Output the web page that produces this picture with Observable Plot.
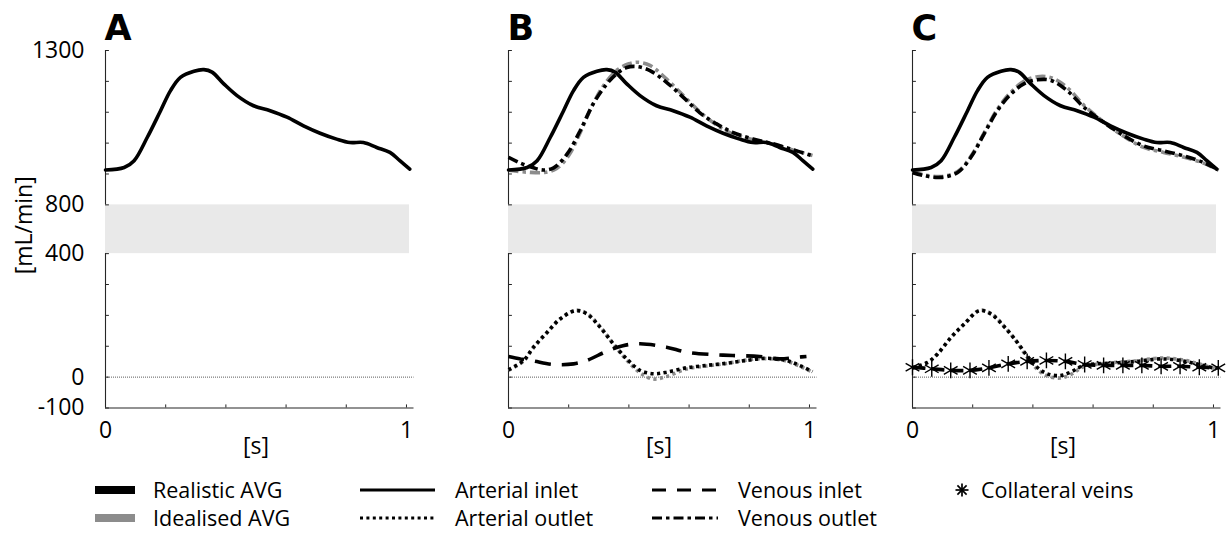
<!DOCTYPE html>
<html><head><meta charset="utf-8">
<script src="https://cdn.jsdelivr.net/npm/d3@7"></script>
<script src="https://cdn.jsdelivr.net/npm/@observablehq/plot@0.6"></script>
<style>
body{margin:0;background:#fff;font-family:"Open Sans",sans-serif;}
#wrap{position:relative;width:1232px;height:533px;overflow:hidden;background:#fff;}
#wrap svg{position:absolute;top:0;}
</style></head><body><div id="wrap"></div>
<script>
// ---------- data (t in s, flow in mL/min) ----------
const arterialInlet = [[0,913],[0.062,921],[0.095,943],[0.139,1019],[0.183,1105],[0.216,1170],[0.249,1213],[0.294,1233],[0.327,1238],[0.354,1230],[0.393,1192],[0.437,1154],[0.492,1121],[0.547,1105],[0.603,1084],[0.658,1056],[0.713,1032],[0.768,1013],[0.812,1002],[0.857,1002],[0.901,986],[0.945,970],[0.978,943],[1.011,916]];

const venousOutletB = [[0,954],[0.04,935],[0.083,920],[0.116,913],[0.15,920],[0.195,965],[0.238,1040],[0.282,1128],[0.327,1192],[0.36,1225],[0.393,1245],[0.427,1248],[0.47,1235],[0.525,1197],[0.58,1149],[0.635,1099],[0.69,1063],[0.745,1035],[0.812,1013],[0.878,998],[0.944,979],[1.01,959]];
const venousOutletBIdeal = [[0,912],[0.06,906],[0.12,905],[0.16,918],[0.2,960],[0.24,1038],[0.28,1125],[0.32,1192],[0.36,1236],[0.4,1257],[0.43,1262],[0.47,1252],[0.52,1212],[0.58,1155],[0.635,1102],[0.69,1060],[0.745,1030],[0.81,1012],[0.88,996],[0.945,978],[1.01,960]];

const arterialOutletB = [[0,24],[0.05,54],[0.083,97],[0.128,145],[0.172,189],[0.222,215],[0.26,205],[0.305,161],[0.348,108],[0.393,59],[0.437,22],[0.481,11],[0.525,16],[0.59,30],[0.658,38],[0.724,45],[0.79,54],[0.857,61],[0.923,54],[0.967,38],[1.01,18]];
const arterialOutletBIdeal = [[0,22],[0.05,52],[0.083,95],[0.128,144],[0.172,188],[0.222,216],[0.26,207],[0.305,163],[0.348,108],[0.393,55],[0.437,14],[0.481,-6],[0.525,2],[0.59,26],[0.658,36],[0.724,44],[0.79,55],[0.857,60],[0.923,52],[0.967,36],[1.01,16]];

const venousInletB = [[0,67],[0.04,59],[0.083,52],[0.15,41],[0.216,43],[0.26,54],[0.327,84],[0.38,102],[0.437,108],[0.525,97],[0.59,81],[0.68,73],[0.745,70],[0.834,67],[0.9,59],[0.967,65],[0.99,67]];

const venousOutletC = [[0,905],[0.04,894],[0.095,889],[0.15,905],[0.194,954],[0.238,1030],[0.282,1105],[0.327,1159],[0.37,1192],[0.415,1205],[0.46,1203],[0.514,1170],[0.57,1116],[0.636,1067],[0.702,1024],[0.768,991],[0.834,975],[0.9,959],[0.967,937],[1.017,913]];
const venousOutletCIdeal = [[0,908],[0.04,897],[0.095,892],[0.15,908],[0.194,957],[0.238,1033],[0.282,1110],[0.327,1165],[0.37,1200],[0.415,1215],[0.46,1212],[0.514,1180],[0.57,1122],[0.636,1068],[0.702,1022],[0.768,986],[0.834,970],[0.9,955],[0.967,935],[1.017,912]];

const arterialOutletC = [[0,30],[0.05,48],[0.083,75],[0.128,129],[0.172,172],[0.222,215],[0.26,205],[0.305,163],[0.348,113],[0.38,70],[0.414,32],[0.447,11],[0.49,5],[0.525,16],[0.57,38],[0.658,45],[0.745,51],[0.823,59],[0.89,54],[0.944,43],[1.01,27]];
const arterialOutletCIdeal = [[0,28],[0.05,47],[0.083,74],[0.128,128],[0.172,172],[0.222,216],[0.26,207],[0.305,164],[0.348,112],[0.38,66],[0.414,26],[0.447,4],[0.49,-3],[0.525,8],[0.57,34],[0.658,46],[0.745,53],[0.823,62],[0.89,57],[0.944,45],[1.01,26]];

const venousInletC = [[0,32],[0.064,27],[0.127,22],[0.191,22],[0.254,30],[0.318,43],[0.381,51],[0.445,54],[0.508,51],[0.572,41],[0.635,38],[0.699,38],[0.762,38],[0.826,35],[0.889,35],[0.953,32],[1.016,30]];
const collateralC = [[0,32],[0.064,27],[0.127,22],[0.191,22],[0.254,30],[0.318,43],[0.381,51],[0.445,54],[0.508,51],[0.572,41],[0.635,38],[0.699,38],[0.762,38],[0.826,35],[0.889,35],[0.953,32],[1.016,30]];

const gapBand = [{t0: 0, t1: 1.01, lo: 400, hi: 800}];
const axisSegments = [{lo: -100, hi: 400}, {lo: 800, hi: 1300}];
const yTickValues = [-100, 0, 100, 200, 300, 400, 800, 900, 1000, 1100, 1200, 1300];
const yTickLabels = [-100, 0, 400, 800, 1300];
const xTickValues = [0, 0.2, 0.4, 0.6, 0.8, 1];
const xTickLabels = [0, 1];
const panelLetters = ["A", "B", "C"];

// ---------- broken y axis: 400..800 compressed ----------
const GAP_UNITS = 158;
function broken(v) {
  return v <= 400 ? v : v >= 800 ? v - 800 + 400 + GAP_UNITS : 400 + (v - 400) * GAP_UNITS / 400;
}

// ---------- styles ----------
const BLACK = "#000", GRAY = "#8c8c8c", AXIS = "#262626";
const LW = 3.6;
const DOT = "3.2,3.4", DASH = "16,11", DASHDOT = "10,4,3.5,4";
const FONT = "Open Sans";

function line(data, stroke, dash) {
  const o = {x: d => d[0], y: d => d[1], stroke, strokeWidth: LW, curve: "catmull-rom"};
  if (dash) { o.strokeDasharray = dash; o.strokeLinecap = "butt"; o.strokeLinejoin = "miter"; }
  return Plot.line(data, o);
}

function panel(letter, left, seriesMarks, showY) {
  const W = 430, H = 470;
  const marks = [
    Plot.rect(gapBand, {x1: "t0", x2: "t1", y1: "lo", y2: "hi", fill: "#e9e9e9"}),
    Plot.ruleY([0], {x1: 0, x2: 1.025, stroke: "#333", strokeWidth: 0.8, strokeDasharray: "1,1"}),
    Plot.ruleX(axisSegments, {x: 0, y1: "lo", y2: "hi", stroke: AXIS, strokeWidth: 1.1}),
    Plot.ruleY([-100], {x1: 0, x2: 1.025, stroke: AXIS, strokeWidth: 1.1}),
    Plot.ruleY(yTickValues, {x1: 0, x2: 0.013, stroke: AXIS, strokeWidth: 1}),
    Plot.ruleX(xTickValues, {y1: -100, y2: -90, stroke: AXIS, strokeWidth: 1}),
    ...seriesMarks,
    Plot.axisX(xTickLabels, {tickSize: 0, tickPadding: 14, fontSize: 23, label: null, tickFormat: d => String(d)}),
    Plot.text([0.5], {x: d => d, frameAnchor: "bottom", dy: 46, text: () => "[s]", fontSize: 23}),
    Plot.text([letter], {x: () => 0, frameAnchor: "top", textAnchor: "start", lineAnchor: "bottom", dy: -11, dx: -1,
      text: d => d, fontSize: 35, fontWeight: "bold", fontFamily: "DejaVu Sans"})
  ];
  if (showY) {
    marks.push(Plot.axisY(yTickLabels, {tickSize: 0, tickPadding: 21, fontSize: 23, label: null, tickFormat: d => String(d)}));
    marks.push(Plot.text(["[mL/min]"], {frameAnchor: "left", textAnchor: "middle", rotate: -90, dx: -81, dy: -4,
      text: d => d, fontSize: 23}));
  }
  const svg = Plot.plot({
    width: W, height: H,
    marginLeft: 105, marginTop: 50, marginBottom: H - 407.5, marginRight: W - 413.5,
    style: {fontFamily: FONT, fontSize: "23px", background: "transparent", color: "#000", overflow: "visible"},
    x: {type: "linear", domain: [0, 1.025], axis: null, label: null},
    y: {type: "linear", transform: broken, domain: [-100, broken(1300)], axis: showY ? undefined : null, label: null},
    marks
  });
  svg.style.left = left + "px";
  return svg;
}

const wrap = document.getElementById("wrap");

wrap.appendChild(panel(panelLetters[0], 0, [
  line(arterialInlet, BLACK)
], true));

wrap.appendChild(panel(panelLetters[1], 403, [
  line(venousOutletBIdeal, GRAY, DASHDOT),
  line(arterialOutletBIdeal, GRAY, DOT),
  line(arterialInlet, BLACK),
  line(venousOutletB, BLACK, DASHDOT),
  line(venousInletB, BLACK, DASH),
  line(arterialOutletB, BLACK, DOT)
], false));

wrap.appendChild(panel(panelLetters[2], 807, [
  line(venousOutletCIdeal, GRAY, DASHDOT),
  line(arterialOutletCIdeal, GRAY, DOT),
  line(arterialInlet, BLACK),
  line(venousOutletC, BLACK, DASHDOT),
  line(venousInletC, BLACK, "13,6"),
  line(arterialOutletC, BLACK, DOT),
  Plot.dot(collateralC, {x: d => d[0], y: d => d[1], symbol: "asterisk", r: 7.5, stroke: BLACK, strokeWidth: 1.4})
], false));

// ---------- legend ----------
const legendItems = [
  {label: "Realistic AVG", x1: 95, x2: 135, row: 0, kind: "bar", color: BLACK},
  {label: "Idealised AVG", x1: 95, x2: 135, row: 1, kind: "bar", color: GRAY},
  {label: "Arterial inlet", x1: 360, x2: 435, row: 0, kind: "line", dash: null},
  {label: "Arterial outlet", x1: 360, x2: 435, row: 1, kind: "line", dash: "3,3.4"},
  {label: "Venous inlet", x1: 652, x2: 718, row: 0, kind: "line", dash: "14,11"},
  {label: "Venous outlet", x1: 652, x2: 718, row: 1, kind: "line", dash: "10,4,3.5,4"},
  {label: "Collateral veins", x1: 962, x2: 962, row: 0, kind: "star"}
];
const rowY = [490, 518];
const leg = d3.create("svg").attr("width", 1232).attr("height", 533)
  .style("left", "0px").style("font-family", FONT).style("font-size", "21.5px");
for (const it of legendItems) {
  const y = rowY[it.row];
  if (it.kind === "bar") {
    leg.append("rect").attr("x", it.x1).attr("y", y - 4).attr("width", it.x2 - it.x1).attr("height", 8).attr("fill", it.color);
  } else if (it.kind === "line") {
    const l = leg.append("line").attr("x1", it.x1).attr("x2", it.x2).attr("y1", y).attr("y2", y)
      .attr("stroke", "#000").attr("stroke-width", 3);
    if (it.dash) l.attr("stroke-dasharray", it.dash);
  } else {
    const g = leg.append("g").attr("transform", `translate(${it.x1},${y})`);
    for (let a = 0; a < 4; a++) {
      const ang = a * Math.PI / 4, r = 6.5;
      g.append("line").attr("x1", -r * Math.cos(ang)).attr("y1", -r * Math.sin(ang))
        .attr("x2", r * Math.cos(ang)).attr("y2", r * Math.sin(ang)).attr("stroke", "#000").attr("stroke-width", 1.7);
    }
  }
  const tx = it.kind === "star" ? it.x1 + 19 : (it.kind === "bar" ? 153 : it.x2 + 20);
  leg.append("text").attr("x", tx).attr("y", y).attr("dy", "0.35em").attr("fill", "#000").text(it.label);
}
wrap.appendChild(leg.node());
</script></body></html>
